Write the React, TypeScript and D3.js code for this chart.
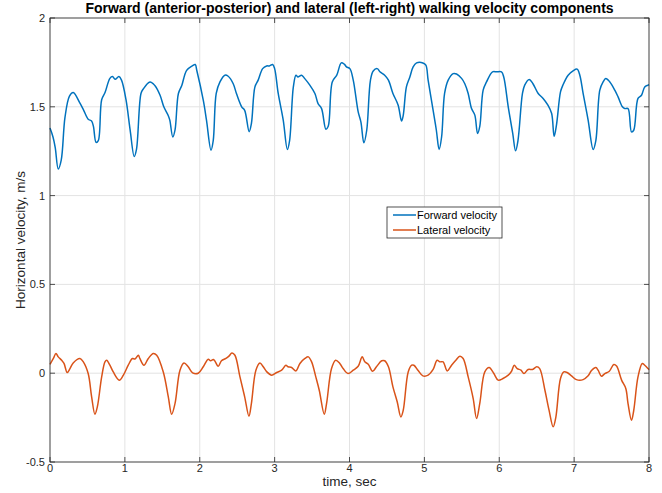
import React, { useEffect, useRef } from "react";
import * as d3 from "d3";

// forward velocity samples (sec, m/s)
const fwdTime = [0, 0.04, 0.07, 0.11, 0.15, 0.2, 0.26, 0.31, 0.4, 0.45, 0.51, 0.555, 0.58, 0.615, 0.645, 0.69, 0.735, 0.8, 0.835, 0.87, 0.92, 0.955, 1.015, 1.07, 1.125, 1.155, 1.215, 1.245, 1.335, 1.4, 1.47, 1.52, 1.58, 1.6, 1.64, 1.67, 1.715, 1.76, 1.825, 1.9, 1.94, 1.96, 2.047, 2.09, 2.15, 2.18, 2.22, 2.27, 2.336, 2.38, 2.447, 2.49, 2.56, 2.6, 2.66, 2.69, 2.737, 2.78, 2.84, 2.893, 2.93, 2.973, 3.0, 3.048, 3.115, 3.17, 3.2, 3.25, 3.285, 3.31, 3.36, 3.4, 3.47, 3.538, 3.58, 3.627, 3.685, 3.716, 3.77, 3.83, 3.89, 3.93, 3.96, 4.005, 4.05, 4.116, 4.152, 4.192, 4.23, 4.28, 4.317, 4.37, 4.406, 4.47, 4.52, 4.58, 4.65, 4.695, 4.717, 4.76, 4.806, 4.85, 4.896, 4.98, 5.02, 5.05, 5.117, 5.16, 5.197, 5.23, 5.27, 5.318, 5.385, 5.43, 5.497, 5.54, 5.585, 5.63, 5.674, 5.71, 5.74, 5.785, 5.83, 5.91, 5.964, 6.03, 6.06, 6.12, 6.18, 6.218, 6.25, 6.31, 6.34, 6.4, 6.45, 6.52, 6.586, 6.65, 6.7, 6.733, 6.765, 6.818, 6.85, 6.92, 6.986, 7.04, 7.076, 7.12, 7.187, 7.254, 7.29, 7.343, 7.387, 7.423, 7.477, 7.543, 7.587, 7.645, 7.676, 7.72, 7.766, 7.796, 7.853, 7.9, 7.943, 7.987, 8.0];
const fwdVel = [1.38, 1.33, 1.27, 1.15, 1.2, 1.44, 1.56, 1.58, 1.52, 1.48, 1.43, 1.42, 1.39, 1.3, 1.31, 1.54, 1.58, 1.66, 1.67, 1.655, 1.67, 1.65, 1.54, 1.37, 1.22, 1.26, 1.575, 1.6, 1.64, 1.62, 1.565, 1.5, 1.45, 1.425, 1.33, 1.37, 1.575, 1.62, 1.705, 1.73, 1.738, 1.706, 1.537, 1.425, 1.256, 1.31, 1.575, 1.64, 1.678, 1.672, 1.63, 1.575, 1.5, 1.48, 1.36, 1.406, 1.612, 1.65, 1.715, 1.73, 1.73, 1.738, 1.715, 1.575, 1.425, 1.26, 1.31, 1.612, 1.678, 1.668, 1.678, 1.66, 1.622, 1.575, 1.518, 1.49, 1.374, 1.39, 1.64, 1.678, 1.747, 1.74, 1.725, 1.715, 1.65, 1.471, 1.415, 1.297, 1.368, 1.65, 1.702, 1.715, 1.697, 1.678, 1.65, 1.575, 1.509, 1.42, 1.45, 1.612, 1.668, 1.725, 1.747, 1.747, 1.734, 1.65, 1.48, 1.368, 1.26, 1.33, 1.575, 1.65, 1.687, 1.685, 1.66, 1.63, 1.575, 1.49, 1.453, 1.35, 1.39, 1.594, 1.64, 1.697, 1.697, 1.697, 1.668, 1.5, 1.35, 1.252, 1.31, 1.575, 1.622, 1.654, 1.63, 1.575, 1.547, 1.509, 1.462, 1.334, 1.4, 1.584, 1.622, 1.678, 1.702, 1.712, 1.678, 1.575, 1.425, 1.26, 1.31, 1.594, 1.64, 1.66, 1.64, 1.594, 1.556, 1.5, 1.49, 1.49, 1.359, 1.368, 1.547, 1.565, 1.612, 1.622, 1.625];

// lateral velocity samples (sec, m/s)
const latTime = [0, 0.045, 0.08, 0.11, 0.156, 0.187, 0.23, 0.267, 0.31, 0.4, 0.445, 0.51, 0.556, 0.6, 0.632, 0.69, 0.734, 0.757, 0.8, 0.845, 0.925, 0.98, 1.045, 1.1, 1.135, 1.18, 1.2, 1.255, 1.313, 1.38, 1.425, 1.513, 1.58, 1.625, 1.67, 1.736, 1.79, 1.846, 1.905, 1.98, 2.047, 2.113, 2.145, 2.18, 2.2, 2.247, 2.29, 2.35, 2.39, 2.43, 2.47, 2.537, 2.6, 2.657, 2.69, 2.75, 2.804, 2.848, 2.893, 2.96, 3.027, 3.094, 3.15, 3.18, 3.227, 3.285, 3.338, 3.405, 3.45, 3.494, 3.55, 3.596, 3.663, 3.694, 3.76, 3.815, 3.87, 3.915, 3.98, 4.05, 4.116, 4.17, 4.205, 4.25, 4.308, 4.36, 4.43, 4.47, 4.52, 4.58, 4.637, 4.686, 4.717, 4.784, 4.83, 4.86, 4.917, 4.98, 5.05, 5.117, 5.17, 5.207, 5.25, 5.305, 5.363, 5.42, 5.474, 5.518, 5.585, 5.652, 5.697, 5.74, 5.807, 5.865, 5.928, 5.985, 6.05, 6.12, 6.164, 6.2, 6.24, 6.29, 6.33, 6.386, 6.445, 6.5, 6.54, 6.61, 6.665, 6.72, 6.755, 6.818, 6.862, 6.906, 6.965, 7.03, 7.12, 7.187, 7.232, 7.29, 7.32, 7.365, 7.41, 7.47, 7.53, 7.567, 7.634, 7.69, 7.72, 7.766, 7.796, 7.853, 7.91, 7.943, 7.987, 8.0];
const latVel = [0.05, 0.083, 0.111, 0.092, 0.073, 0.055, 0.004, 0.026, 0.058, 0.083, 0.064, -0.002, -0.133, -0.231, -0.19, -0.021, 0.064, 0.073, 0.045, 0.007, -0.039, -0.011, 0.045, 0.083, 0.08, 0.101, 0.083, 0.045, 0.083, 0.111, 0.101, 0.007, -0.133, -0.231, -0.17, 0.017, 0.058, 0.036, 0.002, 0.0, 0.036, 0.079, 0.07, 0.077, 0.07, 0.039, 0.07, 0.083, 0.096, 0.114, 0.101, -0.021, -0.133, -0.242, -0.17, 0.017, 0.058, 0.036, 0.009, -0.011, 0.004, 0.017, 0.045, 0.036, 0.032, 0.013, 0.055, 0.083, 0.092, 0.064, -0.021, -0.096, -0.231, -0.17, 0.026, 0.073, 0.055, 0.026, -0.002, 0.017, 0.039, 0.092, 0.064, 0.051, 0.011, 0.036, 0.07, 0.07, 0.036, -0.077, -0.161, -0.246, -0.21, 0.007, 0.045, 0.045, 0.015, -0.015, -0.011, 0.021, 0.073, 0.064, 0.064, 0.013, 0.045, 0.073, 0.096, 0.083, -0.021, -0.143, -0.255, -0.17, 0.007, 0.032, -0.002, -0.039, -0.03, -0.011, 0.011, 0.045, 0.026, 0.017, -0.002, 0.021, 0.021, 0.036, 0.026, -0.096, -0.208, -0.302, -0.25, -0.03, 0.007, 0.004, -0.015, -0.036, -0.036, -0.015, 0.015, 0.032, 0.017, -0.017, -0.002, 0.011, 0.049, 0.04, -0.039, -0.086, -0.171, -0.265, -0.21, -0.021, 0.055, 0.045, 0.026, 0.02];

const xTicks = [0, 1, 2, 3, 4, 5, 6, 7, 8];
const yTicks = [-0.5, 0, 0.5, 1, 1.5, 2];
const seriesNames = ["Forward velocity", "Lateral velocity"];
const seriesColors = ["#0072BD", "#D95319"];

const W = 662;
const H = 493;
const margin = { top: 18, right: 13, bottom: 31, left: 50 };
const font = "'Liberation Sans', Arial, Helvetica, sans-serif";

export default function App() {
    const svgRef = useRef(null);

    useEffect(() => {
        const svg = d3.select(svgRef.current);
        svg.selectAll("*").remove();

        const x = d3.scaleLinear().domain([0, 8]).range([margin.left, W - margin.right]);
        const y = d3.scaleLinear().domain([-0.5, 2]).range([H - margin.bottom, margin.top]);
        const [x0, x1] = x.range();
        const [y1, y0] = y.range();

        svg.append("rect").attr("x", 0).attr("y", 0).attr("width", W).attr("height", H).attr("fill", "white");

        // grid
        const grid = svg.append("g").attr("stroke", "#e3e3e3").attr("stroke-width", 1);
        xTicks.forEach((t) => {
            grid.append("line").attr("x1", x(t)).attr("x2", x(t)).attr("y1", y0).attr("y2", y1);
        });
        yTicks.forEach((t) => {
            grid.append("line").attr("x1", x0).attr("x2", x1).attr("y1", y(t)).attr("y2", y(t));
        });

        // lines
        const fwd = fwdTime.map((t, i) => [t, fwdVel[i]]);
        const lat = latTime.map((t, i) => [t, latVel[i]]);
        const line = d3
            .line()
            .x((d) => x(d[0]))
            .y((d) => y(d[1]))
            .curve(d3.curveCatmullRom.alpha(0.5));
        [fwd, lat].forEach((pts, i) => {
            svg.append("path")
                .attr("d", line(pts))
                .attr("fill", "none")
                .attr("stroke", seriesColors[i])
                .attr("stroke-width", 1.5)
                .attr("stroke-linejoin", "round");
        });

        // box + ticks
        const axis = svg.append("g").attr("stroke", "#262626").attr("stroke-width", 0.8);
        axis.append("rect")
            .attr("x", x0)
            .attr("y", y0)
            .attr("width", x1 - x0)
            .attr("height", y1 - y0)
            .attr("fill", "none");
        const tl = 5;
        xTicks.forEach((t) => {
            axis.append("line").attr("x1", x(t)).attr("x2", x(t)).attr("y1", y1).attr("y2", y1 - tl);
            axis.append("line").attr("x1", x(t)).attr("x2", x(t)).attr("y1", y0).attr("y2", y0 + tl);
        });
        yTicks.forEach((t) => {
            axis.append("line").attr("x1", x0).attr("x2", x0 + tl).attr("y1", y(t)).attr("y2", y(t));
            axis.append("line").attr("x1", x1).attr("x2", x1 - tl).attr("y1", y(t)).attr("y2", y(t));
        });

        // tick labels
        svg.append("g")
            .selectAll("text")
            .data(xTicks)
            .join("text")
            .attr("x", (d) => x(d))
            .attr("y", y1 + 10)
            .attr("text-anchor", "middle")
            .attr("font-family", font)
            .attr("font-size", 11)
            .attr("fill", "#262626")
            .text((d) => d);
        svg.append("g")
            .selectAll("text")
            .data(yTicks)
            .join("text")
            .attr("x", x0 - 5)
            .attr("y", (d) => y(d) + 4)
            .attr("text-anchor", "end")
            .attr("font-family", font)
            .attr("font-size", 11)
            .attr("fill", "#262626")
            .text((d) => d);

        // titles
        svg.append("text")
            .attr("x", (x0 + x1) / 2)
            .attr("y", 13)
            .attr("text-anchor", "middle")
            .attr("font-family", font)
            .attr("font-size", 14)
            .attr("font-weight", "bold")
            .attr("fill", "#000")
            .text("Forward (anterior-posterior) and lateral (left-right) walking velocity components");
        svg.append("text")
            .attr("x", (x0 + x1) / 2)
            .attr("y", 486)
            .attr("text-anchor", "middle")
            .attr("font-family", font)
            .attr("font-size", 13.5)
            .attr("fill", "#262626")
            .text("time, sec");
        svg.append("text")
            .attr("transform", `translate(25,${(y0 + y1) / 2}) rotate(-90)`)
            .attr("text-anchor", "middle")
            .attr("font-family", font)
            .attr("font-size", 13.5)
            .attr("fill", "#262626")
            .text("Horizontal velocity, m/s");

        // legend
        const lg = svg.append("g").attr("transform", "translate(387,207)");
        lg.append("rect")
            .attr("width", 115)
            .attr("height", 31)
            .attr("fill", "white")
            .attr("stroke", "#262626")
            .attr("stroke-width", 0.8);
        seriesNames.forEach((name, i) => {
            const cy = 8 + i * 15;
            lg.append("line")
                .attr("x1", 6)
                .attr("x2", 29)
                .attr("y1", cy)
                .attr("y2", cy)
                .attr("stroke", seriesColors[i])
                .attr("stroke-width", 1.5);
            lg.append("text")
                .attr("x", 30)
                .attr("y", cy + 4)
                .attr("font-family", font)
                .attr("font-size", 11)
                .attr("fill", "#000")
                .text(name);
        });
    }, []);

    return (
        <svg
            ref={svgRef}
            width={W}
            height={H}
            style={{ position: "absolute", left: 0, top: 0, display: "block" }}
        />
    );
}
